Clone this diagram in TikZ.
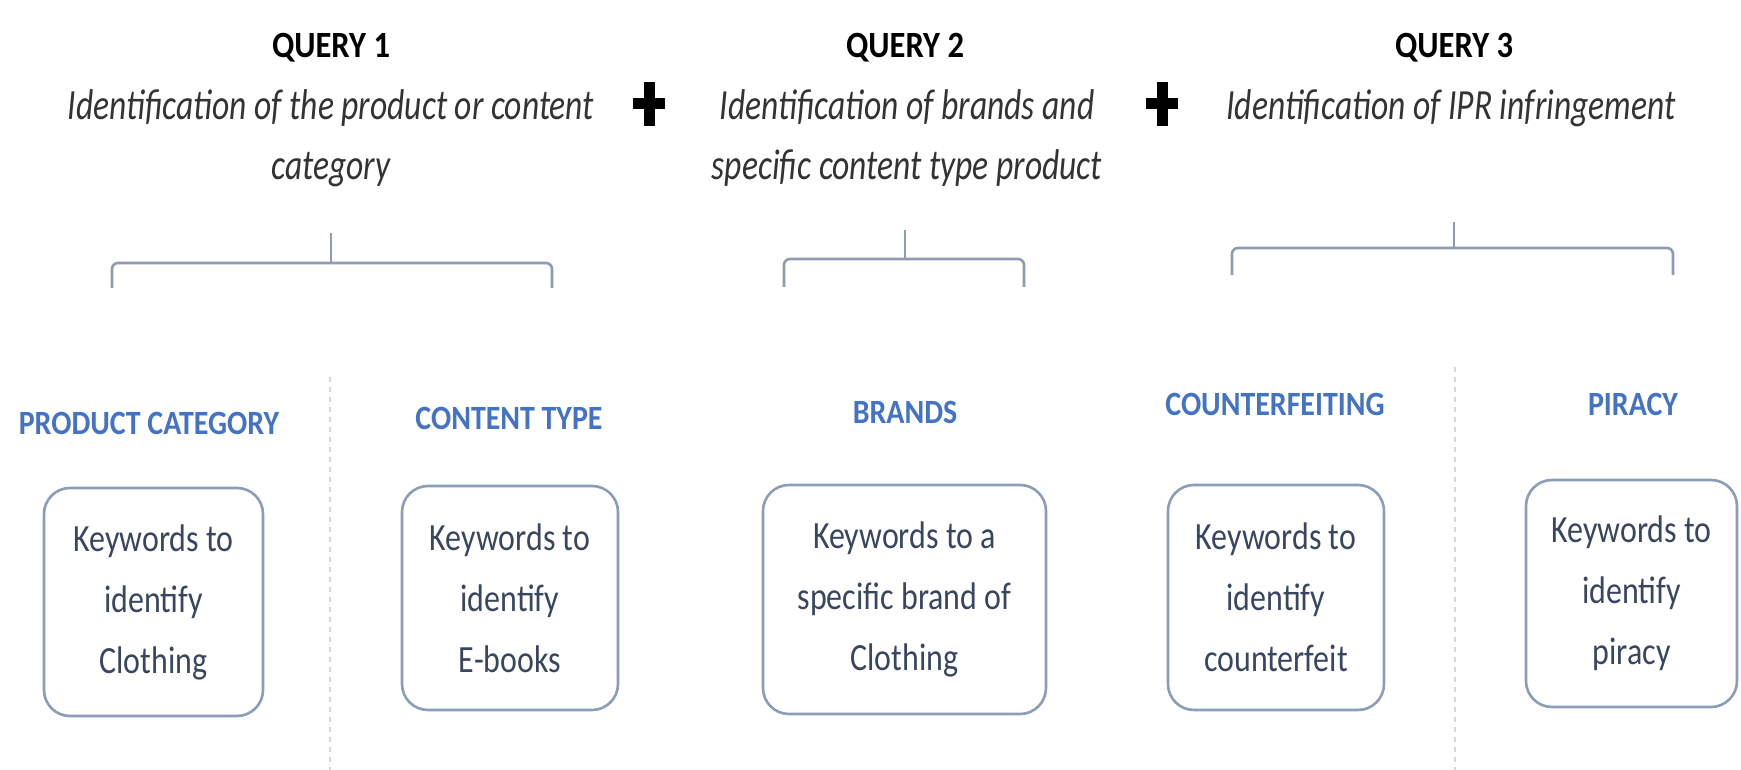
\documentclass[tikz,border=0pt]{standalone}
\usepackage{fontspec}
\setmainfont{Carlito}[FakeStretch=0.88]
\newfontfamily\subfont{Carlito}[FakeStretch=0.78]
\newfontfamily\kwfont{Carlito}[FakeStretch=0.83]
\definecolor{labblue}{HTML}{4472C4}
\definecolor{boxtext}{HTML}{3A4560}
\definecolor{boxline}{HTML}{8C9DB8}
\definecolor{brkline}{HTML}{8F9BB3}
\definecolor{sepline}{HTML}{D3D8DE}
\definecolor{subtext}{HTML}{333333}
\begin{document}
\begin{tikzpicture}[x=1pt,y=-1pt,
  titlenode/.style={font=\fontsize{37}{44}\selectfont\bfseries, text=black, inner sep=0pt},
  subnode/.style={font=\subfont\fontsize{43}{60}\selectfont\itshape, text=subtext, align=center, inner sep=0pt},
  labnode/.style={font=\fontsize{34}{40}\selectfont\bfseries, text=labblue, inner sep=0pt},
  kbox/.style={draw=boxline, line width=2.6pt, rounded corners=26pt, fill=white, align=center,
    text=boxtext, font=\kwfont\fontsize{38.5}{61}\selectfont, inner sep=0pt},
  brk/.style={draw=brkline, line width=2.6pt, rounded corners=6pt},
  sepl/.style={draw=sepline, line width=1.8pt, dash pattern=on 5pt off 5pt},
  plusline/.style={draw=black, line width=11pt}
]
\useasboundingbox (0,0) rectangle (1741,770);
\fill[white] (0,0) rectangle (1741,770);

% titles
\node[titlenode] (q1) at (331,48) {QUERY 1};
\node[titlenode] (q2) at (905,48) {QUERY 2};
\node[titlenode] (q3) at (1454,48) {QUERY 3};

\node[subnode] (s1) at (331,138) {Identification of the product or content\\category};
\node[subnode] (s2) at (907,138) {Identification of brands and\\specific content type product};
\node[subnode] (s3) at (1451,108) {Identification of IPR infringement};

% plus signs
\coordinate (p1) at (649,104);
\coordinate (p2) at (1162,104);
\foreach \p in {p1,p2}{
  \draw[plusline] ([xshift=-16pt]\p) -- ([xshift=16pt]\p);
  \draw[plusline] ([yshift=-22pt]\p) -- ([yshift=22pt]\p);
}

% brackets
\coordinate (b1s) at (331,233); \coordinate (b1m) at (331,263);
\coordinate (b1l) at (112,288); \coordinate (b1r) at (552,288);
\draw[brk] (b1l) -- (b1l |- b1m) -- (b1r |- b1m) -- (b1r);
\draw[brk] (b1s) -- (b1m);

\coordinate (b2s) at (905,230); \coordinate (b2m) at (905,259);
\coordinate (b2l) at (784,287); \coordinate (b2r) at (1024,287);
\draw[brk] (b2l) -- (b2l |- b2m) -- (b2r |- b2m) -- (b2r);
\draw[brk] (b2s) -- (b2m);

\coordinate (b3s) at (1454,222); \coordinate (b3m) at (1454,248);
\coordinate (b3l) at (1232,275); \coordinate (b3r) at (1673,275);
\draw[brk] (b3l) -- (b3l |- b3m) -- (b3r |- b3m) -- (b3r);
\draw[brk] (b3s) -- (b3m);

% separators
\coordinate (d1t) at (330,377); \coordinate (d1b) at (330,770);
\coordinate (d2t) at (1455,367); \coordinate (d2b) at (1455,770);
\draw[sepl] (d1t) -- (d1b);
\draw[sepl] (d2t) -- (d2b);

% category labels
\node[labnode] (l1) at (149,423) {PRODUCT CATEGORY};
\node[labnode] (l2) at (509,418) {CONTENT TYPE};
\node[labnode] (l3) at (905,412) {BRANDS};
\node[labnode] (l4) at (1275,404) {COUNTERFEITING};
\node[labnode] (l5) at (1633,404) {PIRACY};

% keyword boxes
\node[kbox, minimum width=219pt, minimum height=228pt] (k1) at (153.5,602) {Keywords to\\identify\\Clothing};
\node[kbox, minimum width=216pt, minimum height=224pt] (k2) at (510,598) {Keywords to\\identify\\E-books};
\node[kbox, minimum width=283pt, minimum height=229pt] (k3) at (904.5,599.5) {Keywords to a\\specific brand of\\Clothing};
\node[kbox, minimum width=216pt, minimum height=225pt] (k4) at (1276,597.5) {Keywords to\\identify\\counterfeit};
\node[kbox, minimum width=211pt, minimum height=227pt] (k5) at (1631.5,593.5) {Keywords to\\identify\\piracy};
\end{tikzpicture}
\end{document}
